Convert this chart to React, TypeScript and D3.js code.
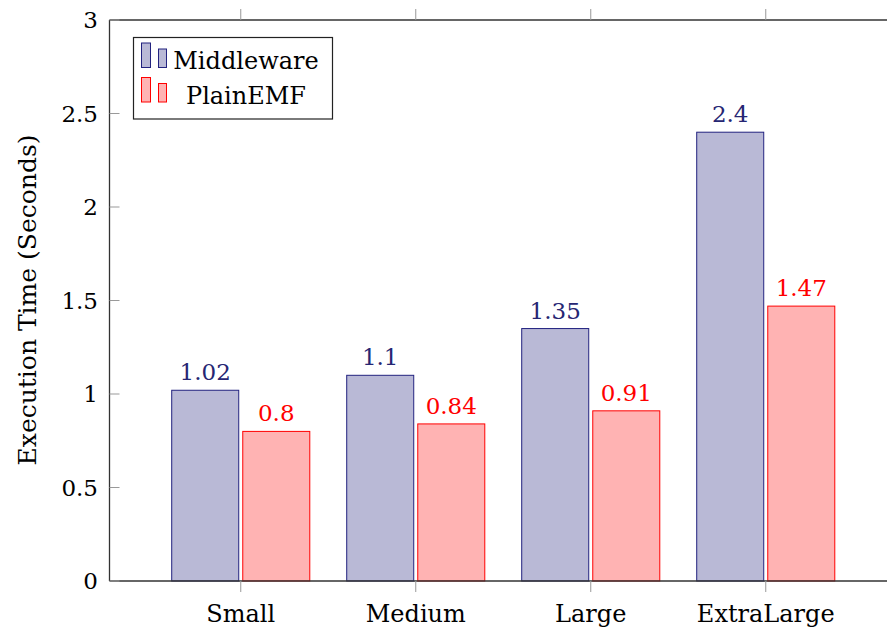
import React from "react";
import * as d3 from "d3";

const categories = ["Small", "Medium", "Large", "ExtraLarge"];
const middleware = [1.02, 1.1, 1.35, 2.4];
const plainEMF = [0.8, 0.84, 0.91, 1.47];
const yTicks = [0, 0.5, 1, 1.5, 2, 2.5, 3];
const yTickLabels = ["0", "0.5", "1", "1.5", "2", "2.5", "3"];
const seriesNames = ["Middleware", "PlainEMF"];

const W = 887;
const H = 630;
const FONT = "DejaVu Serif";

const blueStroke = "#22227f";
const blueFill = "#b9b9d6";
const redStroke = "#ff0000";
const redFill = "#ffb3b3";

export default function App() {
  const x = d3.scaleLinear().domain([-0.75, 3.75]).range([109.5, 897]);
  const y = d3.scaleLinear().domain([0, 3]).range([581, 20]);
  const barW = x(0.383) - x(0);
  const off = 0.203;
  const series = [
    { name: seriesNames[0], values: middleware, stroke: blueStroke, fill: blueFill, text: "#262673", dx: -off },
    { name: seriesNames[1], values: plainEMF, stroke: redStroke, fill: redFill, text: "#ff0000", dx: off },
  ];
  const left = x(-0.75);
  const right = x(3.75);
  const top = y(3);
  const bottom = y(0);

  return (
    <svg width={W} height={H} style={{ position: "absolute", left: 0, top: 0, background: "#fff" }}>
      <rect x={0} y={0} width={W} height={H} fill="#fff" />
      <g fontFamily={FONT}>
      {series.map((s, si) =>
        s.values.map((v, i) => {
          const cx = x(i + s.dx);
          return (
            <g key={`${si}-${i}`}>
              <rect x={cx - barW / 2} y={y(v)} width={barW} height={y(0) - y(v)} fill={s.fill} stroke={s.stroke} strokeWidth={1} />
              <text x={cx} y={y(v) - 10} textAnchor="middle" fontSize={23} fill={s.text}>
                {String(v)}
              </text>
            </g>
          );
        })
      )}
      <line x1={left} x2={right} y1={top} y2={top} stroke="#333" strokeWidth={1.3} />
      <line x1={left} x2={right} y1={bottom} y2={bottom} stroke="#333" strokeWidth={1.3} />
      <line x1={left} x2={left} y1={top} y2={bottom} stroke="#333" strokeWidth={1.3} />
      <line x1={right} x2={right} y1={top} y2={bottom} stroke="#333" strokeWidth={1.3} />
      {yTicks.map((t, i) => (
        <g key={`yt${i}`}>
          <line x1={left} x2={left + 10} y1={y(t)} y2={y(t)} stroke="#999" strokeWidth={1} />
          <line x1={right} x2={right - 10} y1={y(t)} y2={y(t)} stroke="#999" strokeWidth={1} />
          <text x={98} y={y(t)} dy="0.36em" textAnchor="end" fontSize={23} fill="#000">
            {yTickLabels[i]}
          </text>
        </g>
      ))}
      {categories.map((c, i) => (
        <g key={`xt${i}`}>
          <line x1={x(i)} x2={x(i)} y1={bottom} y2={bottom + 11} stroke="#999" strokeWidth={1} />
          <line x1={x(i)} x2={x(i)} y1={top} y2={top - 11} stroke="#999" strokeWidth={1} />
          <text x={x(i)} y={622} textAnchor="middle" fontSize={24} fill="#000">
            {c}
          </text>
        </g>
      ))}
      <text transform={`translate(36, 300) rotate(-90)`} textAnchor="middle" fontSize={25} fill="#000">
        Execution Time (Seconds)
      </text>
      <rect x={133.5} y={37.5} width={199} height={81.5} fill="#fff" stroke="#222" strokeWidth={1.2} />
      {series.map((s, si) => {
        const baseY = 67.5 + si * 34.5;
        return (
          <g key={`lg${si}`}>
            <rect x={141.5} y={baseY - 24.5} width={9} height={24.5} fill={s.fill} stroke={s.stroke} strokeWidth={1} />
            <rect x={158.5} y={baseY - 18.5} width={8} height={18.5} fill={s.fill} stroke={s.stroke} strokeWidth={1} />
            <text x={246} y={baseY + 1.5} textAnchor="middle" fontSize={24} fill="#000">
              {s.name}
            </text>
          </g>
        );
      })}
      </g>
    </svg>
  );
}
